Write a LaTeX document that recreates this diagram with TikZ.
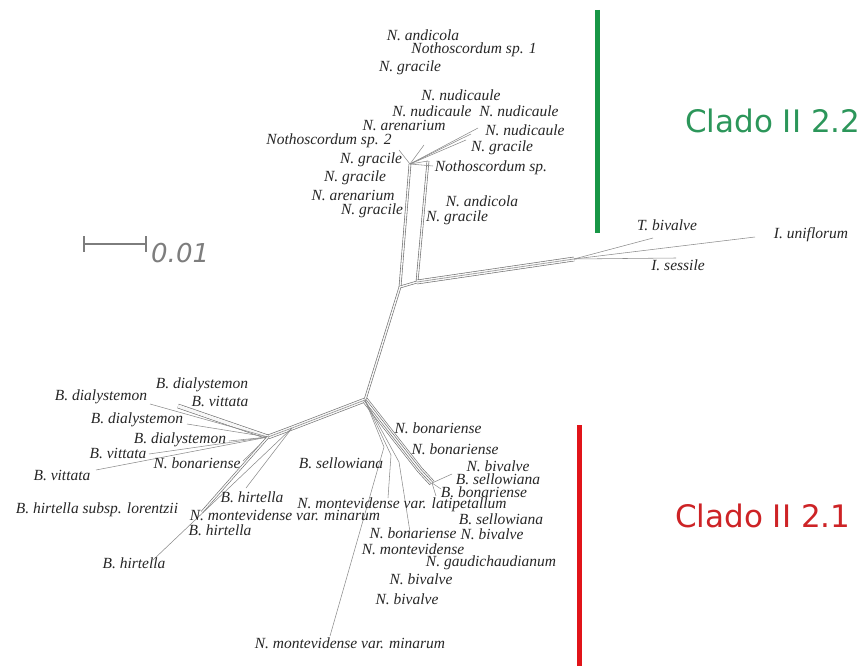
\documentclass[tikz,border=0pt]{standalone}
\usepackage{fontspec}
\usepackage{xcolor}
\newfontfamily\taxonfont{Liberation Serif}
\newfontfamily\cladofont{DejaVu Sans}
\definecolor{cladogreen}{RGB}{44,150,90}
\definecolor{bargreen}{RGB}{24,150,70}
\definecolor{cladored}{RGB}{205,35,38}
\definecolor{barred}{RGB}{225,20,25}
\definecolor{scalegray}{RGB}{125,125,125}

\begin{document}
\begin{tikzpicture}[x=1pt,y=-1pt]
\tikzstyle{every node}+=[inner sep=0pt]
\tikzstyle{taxon}=[font=\taxonfont\itshape\fontsize{15.5}{16}\selectfont, text=black!85]
\tikzstyle{clado}=[anchor=base west, font=\cladofont\fontsize{31}{31}\selectfont]
\tikzstyle{split}=[draw=black!45, line width=0.55pt]
\tikzstyle{band}=[draw=black!58, line width=0.6pt, double=black!3, double distance=1.4pt, line join=round]
\tikzstyle{wideband}=[band, double distance=3.4pt]
\useasboundingbox (0,0) rectangle (862,666);

% clade bars and names
\draw [bargreen, line width=5pt] (597,10) -- (597,233);
\draw [barred, line width=5pt] (579,425) -- (579,666);
\node [clado, text=cladogreen] (cladoB) at (685,133) {Clado II 2.2};
\node [clado, text=cladored] (cladoA) at (675,527) {Clado II 2.1};

% scale bar
\coordinate (s1) at (84,244);
\coordinate (s2) at (146,244);
\draw [scalegray, line width=2.5pt] (s1) -- (s2);
\draw [scalegray, line width=2.5pt] ([yshift=8pt]s1) -- ([yshift=-8pt]s1);
\draw [scalegray, line width=2.5pt] ([yshift=8pt]s2) -- ([yshift=-8pt]s2);
\node [anchor=base west, text=scalegray, font=\cladofont\itshape\fontsize{26}{26}\selectfont] (scale) at (151,262) {0.01};

% splits skeleton
\coordinate (a1) at (400,287);
\coordinate (a2) at (417,282);
\coordinate (t1) at (410,164);
\coordinate (t2) at (428,161);
\coordinate (o1) at (574,259);
\coordinate (b1) at (365,400);
\coordinate (l1) at (292,428);
\coordinate (l2) at (268,437);
\coordinate (l4) at (178,406);
\coordinate (r2) at (420,470);
\coordinate (r3) at (432,483);
\coordinate (r4) at (384,447);
\coordinate (r5) at (391,455);
\coordinate (r6) at (399,462);

% tips
\coordinate (tSp2) at (399,150);
\coordinate (tAre) at (424,145);
\coordinate (tNud1) at (478,128);
\coordinate (tNud2) at (471,134);
\coordinate (tGra) at (466,140);
\coordinate (tSp3) at (433,166);
\coordinate (tTbi) at (653,238);
\coordinate (tIun) at (755,237);
\coordinate (tIse) at (676,258);
\coordinate (tDia2) at (150,404);
\coordinate (tDia3) at (187,424);
\coordinate (tDia4) at (229,441);
\coordinate (tVit2) at (149,454);
\coordinate (tVit3) at (96,470);
\coordinate (tBon1) at (243,461);
\coordinate (tLor) at (202,512);
\coordinate (tHir1) at (246,488);
\coordinate (tHir3) at (153,560);
\coordinate (tMin2) at (330,636);
\coordinate (tLat) at (388,498);
\coordinate (tBon4) at (410,532);
\coordinate (tBiv1) at (452,474);
\coordinate (tSel2) at (441,489);
\coordinate (tBon) at (436,496);

\draw [band] (a1) -- (t1);
\draw [band] (a2) -- (t2);
\draw [split] (t1) -- (t2);
\draw [band] (a1) -- (a2);
\draw [wideband] (a2) -- (o1);
\draw [split] (a2) -- (o1);
\draw [band] (a1) -- (b1);
\draw [wideband] (b1) -- (l1) -- (l2);
\draw [split] (b1) -- (l1) -- (l2);
\draw [wideband] (l2) -- (l4);
\draw [wideband, double distance=5pt] (b1) -- (r2) -- (r3);
\draw [band] (b1) -- (r2) -- (r3);
\draw [split] (b1) -- (r4) -- (tMin2);
\draw [split] (b1) -- (r5) -- (tLat);
\draw [split] (b1) -- (r6) -- (tBon4);
\foreach \tip in {tSp2,tAre,tNud1,tNud2,tGra,tSp3}
  \draw [split] (t1) -- (\tip);
\foreach \tip in {tTbi,tIun,tIse}
  \draw [split] (o1) -- (\tip);
\foreach \tip in {tDia2,tDia3,tDia4,tVit2,tVit3,tBon1}
  \draw [split] (l2) -- (\tip);
\draw [band] (l2) -- (tLor);
\draw [split] (l1) -- (tHir1);
\draw [split] (l1) -- (tHir3);
\foreach \tip in {tBiv1,tSel2,tBon}
  \draw [split] (r3) -- (\tip);

% Clado II 2.2 taxa
\node [taxon] (nAnd1) at (423,35) {N. andicola};
\node [taxon] (nSp1) at (474,50) {Nothoscordum sp. 1};
\node [taxon] (nGra1) at (410,68) {N. gracile};
\node [taxon] (nNud1) at (461,95) {N. nudicaule};
\node [taxon] (nNud2) at (432,111) {N. nudicaule};
\node [taxon] (nNud3) at (519,111) {N. nudicaule};
\node [taxon] (nAre1) at (404,125) {N. arenarium};
\node [taxon] (nNud4) at (525,130) {N. nudicaule};
\node [taxon] (nSp2) at (329,141) {Nothoscordum sp. 2};
\node [taxon] (nGra2) at (502,148) {N. gracile};
\node [taxon] (nGra3) at (371,160) {N. gracile};
\node [taxon] (nSp3) at (491,168) {Nothoscordum sp.};
\node [taxon] (nGra4) at (355,178) {N. gracile};
\node [taxon] (nAre2) at (353,195) {N. arenarium};
\node [taxon] (nAnd2) at (482,201) {N. andicola};
\node [taxon] (nGra5) at (372,211) {N. gracile};
\node [taxon] (nGra6) at (457,218) {N. gracile};

% outgroup
\node [taxon] (tBiv) at (667,225) {T. bivalve};
\node [taxon] (iUni) at (811,235) {I. uniflorum};
\node [taxon] (iSes) at (678,265) {I. sessile};

% Clado II 2.1 taxa
\node [taxon] (bDia1) at (202,385) {B. dialystemon};
\node [taxon] (bDia2) at (101,397) {B. dialystemon};
\node [taxon] (bVit1) at (220,401) {B. vittata};
\node [taxon] (bDia3) at (137,420) {B. dialystemon};
\node [taxon] (bDia4) at (180,440) {B. dialystemon};
\node [taxon] (bVit2) at (118,453) {B. vittata};
\node [taxon] (nBon1) at (197,463) {N. bonariense};
\node [taxon] (bVit3) at (62,475) {B. vittata};
\node [taxon] (bHir1) at (252,497) {B. hirtella};
\node [taxon] (bLor) at (97,510) {B. hirtella subsp. lorentzii};
\node [taxon] (nMin1) at (285,515.5) {N. montevidense var. minarum};
\node [taxon] (bHir2) at (220,530.5) {B. hirtella};
\node [taxon] (bHir3) at (134,563) {B. hirtella};
\node [taxon] (nBon2) at (438,428) {N. bonariense};
\node [taxon] (nBon3) at (455,449) {N. bonariense};
\node [taxon] (bSel1) at (341,463) {B. sellowiana};
\node [taxon] (nBiv1) at (498,466) {N. bivalve};
\node [taxon] (bSel2) at (498,479.5) {B. sellowiana};
\node [taxon] (bBon) at (484,492.5) {B. bonariense};
\node [taxon] (nLat) at (402,505) {N. montevidense var. latipetallum};
\node [taxon] (bSel3) at (501,519) {B. sellowiana};
\node [taxon] (nBon4) at (413,533) {N. bonariense};
\node [taxon] (nBiv2) at (492,534) {N. bivalve};
\node [taxon] (nMon) at (413,549) {N. montevidense};
\node [taxon] (nGau) at (491,563) {N. gaudichaudianum};
\node [taxon] (nBiv3) at (421,579) {N. bivalve};
\node [taxon] (nBiv4) at (407,599) {N. bivalve};
\node [taxon] (nMin2) at (350,643) {N. montevidense var. minarum};
\end{tikzpicture}
\end{document}
